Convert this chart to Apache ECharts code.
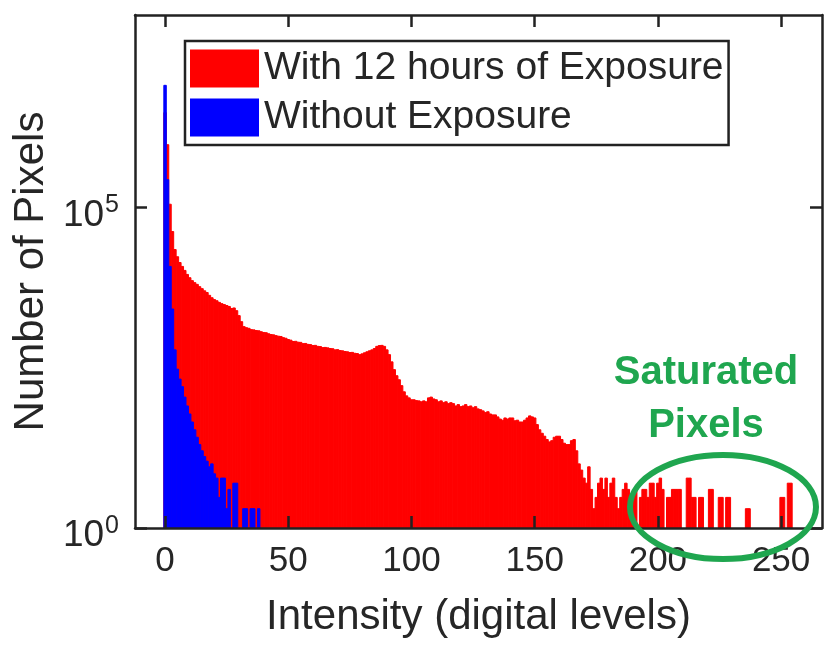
<!DOCTYPE html>
<html>
<head>
<meta charset="utf-8">
<script src="https://cdn.jsdelivr.net/npm/echarts@6/dist/echarts.min.js"></script>
<style>
  html, body { margin: 0; padding: 0; background: #fff; }
  #chart { width: 824px; height: 645px; }
</style>
</head>
<body>
<div id="chart"></div>
<script>
// pixel counts per intensity level (index = level 0..255)
var exposed = [
  3000000, 950000, 112000, 42000, 22000, 17000, 13800, 12000, 10400, 9000,
  8000, 7200, 6700, 6300, 5800, 5400, 5000, 4700, 4250, 3900,
  3650, 3500, 3300, 3150, 3050, 2950, 2850, 2650, 2700, 2450,
  2050, 1650, 1380, 1330, 1300, 1240, 1230, 1200, 1190, 1150,
  1120, 1110, 1070, 1040, 1030, 1000, 980, 970, 930, 910,
  870, 850, 810, 815, 790, 785, 750, 755, 730, 725,
  700, 705, 680, 675, 650, 655, 645, 630, 625, 600,
  605, 585, 580, 565, 560, 545, 548, 530, 525, 505,
  520, 540, 560, 580, 600, 630, 680, 700, 705, 680,
  600, 505, 390, 295, 237, 205, 166, 133, 115, 107,
  100, 100, 97, 96, 93, 96, 93, 107, 110, 103,
  100, 93, 96, 90, 93, 87, 90, 87, 80, 84,
  78, 80, 84, 78, 80, 75, 78, 72, 70, 67,
  63, 65, 60, 58, 58, 54, 50, 48, 52, 50,
  52, 52, 47, 48, 45, 45, 48, 52, 56, 54,
  52, 41, 34, 30, 27, 24, 22, 23, 26, 27,
  27, 24, 21, 20, 20, 23, 24, 16, 10, 8,
  6, 5, 9, 4, 2, 3, 5, 6, 4, 6,
  3, 5, 6, 3, 2, 3, 4, 5, 4, 2,
  3, 4, 0, 3, 4, 4, 3, 5, 5, 3,
  5, 6, 4, 0, 3, 3, 4, 4, 4, 4,
  0, 0, 6, 6, 3, 3, 0, 3, 3, 0,
  0, 4, 4, 0, 0, 3, 3, 0, 3, 3,
  0, 0, 0, 0, 0, 0, 2, 2, 0, 0,
  0, 0, 0, 0, 0, 0, 0, 0, 0, 0,
  3, 3, 0, 5, 5, 0
];
var unexposed = [
  8000000, 270000, 12000, 2600, 600, 300, 210, 160, 110, 80,
  60, 45, 34, 26, 20, 16, 13, 11, 9, 10,
  7, 6, 3, 6, 6, 2, 4, 0, 5, 5,
  0, 0, 2, 2, 0, 2, 2, 0, 2
];
var seriesNames = ['With 12 hours of Exposure', 'Without Exposure'];
var xTicks = [0, 50, 100, 150, 200, 250];
var yTicks = [1, 100000];

var font = 'Liberation Sans, Arial, Helvetica, sans-serif';
var axisColor = '#222';
var textColor = '#262626';
var green = '#1fa64f';

function toPoints(arr) {
  return arr.map(function (v, i) { return [i, v]; })
            .filter(function (d) { return d[1] > 0; });
}

function renderBin(params, api) {
  var level = api.value(0);
  var count = api.value(1);
  if (count <= 1) return;
  var p0 = api.coord([level - 0.5, count]);
  var p1 = api.coord([level + 0.5, 1]);
  var color = api.visual('color');
  return {
    type: 'rect',
    shape: { x: p0[0], y: p0[1], width: p1[0] - p0[0], height: p1[1] - p0[1] },
    style: { fill: color, stroke: color, lineWidth: 1 }
  };
}

var chart = echarts.init(document.getElementById('chart'));

var xBase = {
  type: 'value', min: -12.2, max: 266.6, z: 10,
  splitLine: { show: false },
  axisLine: { onZero: false, lineStyle: { color: axisColor, width: 2.5 } },
  axisTick: { inside: true, length: 12, customValues: xTicks,
              lineStyle: { color: axisColor, width: 2.5 } }
};
var yBase = {
  type: 'log', logBase: 10, min: 1, max: 100000000, z: 10,
  splitLine: { show: false },
  axisLine: { show: true, onZero: false, lineStyle: { color: axisColor, width: 2.5 } },
  axisTick: { show: true, inside: true, length: 12, customValues: yTicks,
              lineStyle: { color: axisColor, width: 2.5 } },
  minorTick: { show: false }
};

var option = {
  animation: false,
  backgroundColor: '#fff',
  grid: { left: 135, right: 2, top: 15, bottom: 117 },
  legend: {
    orient: 'vertical', left: 185, top: 41,
    padding: [8, 5, 8, 5],
    itemWidth: 69, itemHeight: 38, itemGap: 10,
    borderColor: axisColor, borderWidth: 2.5, backgroundColor: '#fff',
    textStyle: { fontSize: 39, color: textColor, fontFamily: font },
    data: [
      { name: seriesNames[0], icon: 'rect' },
      { name: seriesNames[1], icon: 'rect' }
    ]
  },
  xAxis: [
    Object.assign({}, xBase, {
      position: 'bottom',
      name: 'Intensity (digital levels)',
      nameLocation: 'middle', nameGap: 68,
      nameTextStyle: { fontSize: 42, color: textColor, fontFamily: font },
      axisLabel: { customValues: xTicks, margin: 16, fontSize: 35,
                   color: textColor, fontFamily: font }
    }),
    Object.assign({}, xBase, { position: 'top', axisLabel: { show: false } })
  ],
  yAxis: [
    Object.assign({}, yBase, {
      position: 'left',
      name: 'Number of Pixels',
      nameLocation: 'middle', nameGap: 82,
      nameTextStyle: { fontSize: 42, color: textColor, fontFamily: font },
      axisLabel: {
        customValues: yTicks, margin: 16, fontSize: 36,
        padding: [16, 0, 0, 0],
        color: textColor, fontFamily: font,
        formatter: function (v) {
          return '{base|10}{pow|' + Math.round(Math.log10(v)) + '}';
        },
        rich: {
          base: { fontSize: 37, color: textColor, fontFamily: font },
          pow: { fontSize: 25, color: textColor, fontFamily: font, padding: [0, 0, 20, 1] }
        }
      }
    }),
    Object.assign({}, yBase, { position: 'right', axisLabel: { show: false } })
  ],
  series: [
    {
      name: seriesNames[0], type: 'custom', renderItem: renderBin,
      xAxisIndex: 0, yAxisIndex: 0, z: 2,
      itemStyle: { color: '#ff0000' },
      encode: { x: 0, y: 1 },
      data: toPoints(exposed)
    },
    {
      name: seriesNames[1], type: 'custom', renderItem: renderBin,
      xAxisIndex: 0, yAxisIndex: 0, z: 3,
      itemStyle: { color: '#0000ff' },
      encode: { x: 0, y: 1 },
      data: toPoints(unexposed)
    }
  ],
  graphic: [
    {
      type: 'ellipse', z: 100,
      shape: { cx: 723, cy: 507, rx: 93, ry: 52 },
      style: { fill: 'none', stroke: green, lineWidth: 6 }
    },
    {
      type: 'text', z: 100, x: 706, y: 373,
      style: { text: 'Saturated', fill: green, font: 'bold 40px ' + font,
               align: 'center', verticalAlign: 'middle' }
    },
    {
      type: 'text', z: 100, x: 706, y: 426,
      style: { text: 'Pixels', fill: green, font: 'bold 40px ' + font,
               align: 'center', verticalAlign: 'middle' }
    }
  ]
};

chart.setOption(option);
</script>
</body>
</html>
